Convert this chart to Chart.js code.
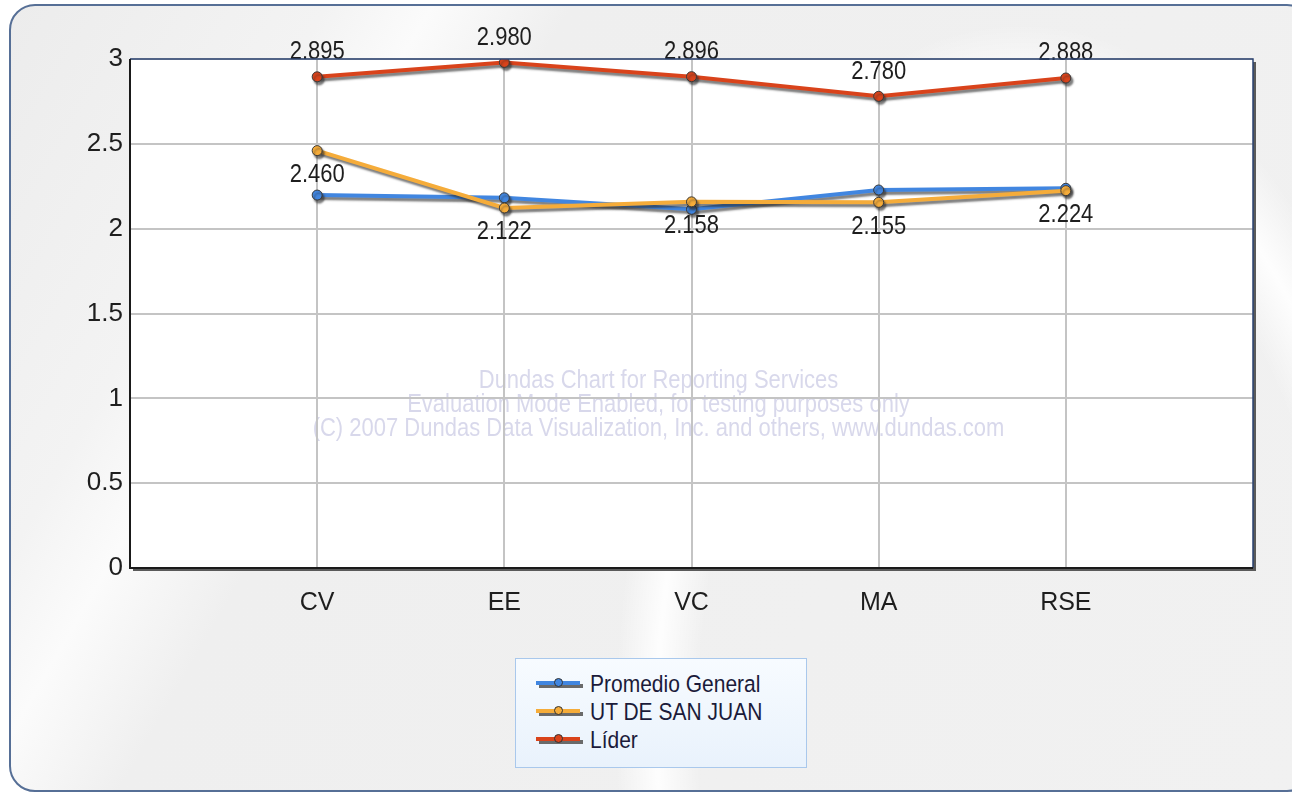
<!DOCTYPE html>
<html>
<head>
<meta charset="utf-8">
<script src="https://cdn.jsdelivr.net/npm/chart.js@4"></script>
<style>
  html, body { margin: 0; padding: 0; background: #ffffff; width: 1292px; height: 795px; overflow: hidden; }
  #frame {
    position: absolute; left: 9px; top: 4px; width: 1300px; height: 784px;
    border: 2px solid #566f96; border-radius: 26px;
    background:
      radial-gradient(ellipse 520px 900px at 1010px 720px, rgba(255,255,255,0) 62%, rgba(255,255,255,0.9) 70%, rgba(255,255,255,0) 78%),
      linear-gradient(120deg, #ececec 0%, #f3f3f3 18%, #fbfbfb 24%, #efefef 32%, #f1f1f1 100%);
  }
  #chart { position: absolute; left: 0; top: 0; }
  #legend {
    position: absolute; left: 515px; top: 658px; width: 290px; height: 108px;
    border: 1px solid #a9c8ec;
    background: linear-gradient(180deg, #f7fbff, #e9f2fc);
    font-family: "Liberation Sans", Arial, sans-serif; font-size: 21px; color: #1b1b3a;
  }
  .item { position: absolute; left: 20px; height: 24px; line-height: 24px; }
  .mark { position: absolute; left: 0; top: 9px; width: 46px; height: 5px; }
  .mark .shadow { position: absolute; left: 3px; top: 3px; width: 44px; height: 4px; background: #6a6a6a; }
  .mark .line { position: absolute; left: 0; top: 0; width: 44px; height: 4px; }
  .mark .dot { position: absolute; left: 18px; top: -3px; width: 7px; height: 7px; border-radius: 50%; border: 1px solid #333; }
  .item span { position: absolute; left: 54px; top: 0; white-space: nowrap; transform: scaleY(1.15); transform-origin: left center; }
</style>
</head>
<body>
<div id="frame"></div>
<canvas id="chart" width="1292" height="795"></canvas>
<div id="legend"></div>
<script>
const categories = ['CV', 'EE', 'VC', 'MA', 'RSE'];
const promedioGeneral = [2.198, 2.182, 2.114, 2.228, 2.238];
const utSanJuan = [2.460, 2.122, 2.158, 2.155, 2.224];
const lider = [2.895, 2.980, 2.896, 2.780, 2.888];
const yTicks = [0, 0.5, 1, 1.5, 2, 2.5, 3];
const seriesNames = ['Promedio General', 'UT DE SAN JUAN', 'Líder'];
const seriesColors = ['#4186e0', '#f5ac3a', '#d9431b'];
const watermark = [
  'Dundas Chart for Reporting Services',
  'Evaluation Mode Enabled, for testing purposes only',
  '(C) 2007 Dundas Data Visualization, Inc. and others, www.dundas.com'
];

var FONT = '"Liberation Sans", Arial, sans-serif';

function toPoints(values) {
  return values.map(function (v, i) { return { x: i + 1, y: v }; });
}

// text slightly stretched vertically, like the original render
function tallText(ctx, text, x, y) {
  ctx.save();
  ctx.translate(x, y);
  ctx.scale(1, 1.2);
  ctx.fillText(text, 0, 0);
  ctx.restore();
}

// white plot area with shadow, watermark behind the grid
const plotBack = {
  id: 'plotBack',
  beforeDraw: function (chart) {
    var a = chart.chartArea, ctx = chart.ctx;
    ctx.save();
    ctx.fillStyle = '#5a5a5a';
    ctx.fillRect(a.left + 3, a.top + 3, a.right - a.left, a.bottom - a.top);
    ctx.fillStyle = '#ffffff';
    ctx.fillRect(a.left, a.top, a.right - a.left, a.bottom - a.top);
    ctx.fillStyle = 'rgba(190,190,222,0.6)';
    ctx.font = '22px ' + FONT;
    ctx.textAlign = 'center';
    ctx.textBaseline = 'middle';
    var cx = (a.left + a.right) / 2 - 33;
    watermark.forEach(function (t, i) { tallText(ctx, t, cx, 381 + i * 24); });
    ctx.restore();
  },
  afterDraw: function (chart) {
    var a = chart.chartArea, ctx = chart.ctx;
    ctx.save();
    ctx.strokeStyle = '#2b4372';
    ctx.lineWidth = 1.5;
    ctx.beginPath();
    ctx.moveTo(a.left, a.top); ctx.lineTo(a.right, a.top); ctx.lineTo(a.right, a.bottom);
    ctx.stroke();
    ctx.strokeStyle = '#1a1a1a';
    ctx.lineWidth = 2;
    ctx.beginPath();
    ctx.moveTo(a.left, a.top); ctx.lineTo(a.left, a.bottom); ctx.lineTo(a.right, a.bottom);
    ctx.stroke();
    ctx.restore();
  }
};

// drop shadow under each series
const lineShadow = {
  id: 'lineShadow',
  beforeDatasetDraw: function (chart) {
    var ctx = chart.ctx;
    ctx.save();
    ctx.shadowColor = 'rgba(40,40,40,0.6)';
    ctx.shadowOffsetX = 2;
    ctx.shadowOffsetY = 3;
    ctx.shadowBlur = 2;
  },
  afterDatasetDraw: function (chart) { chart.ctx.restore(); }
};

// value labels
const valueLabels = {
  id: 'valueLabels',
  afterDatasetsDraw: function (chart) {
    var ctx = chart.ctx;
    ctx.save();
    ctx.font = '22px ' + FONT;
    ctx.fillStyle = '#1e1e1e';
    ctx.textAlign = 'center';
    ctx.textBaseline = 'middle';
    chart.data.datasets.forEach(function (ds, i) {
      if (ds.labelOffset === undefined) return;
      chart.getDatasetMeta(i).data.forEach(function (pt, j) {
        tallText(ctx, ds.data[j].y.toFixed(3), pt.x, pt.y + ds.labelOffset);
      });
    });
    ctx.restore();
  }
};

var values = [promedioGeneral, utSanJuan, lider];
var offsets = [undefined, 24, -25];
var orders = [2, 1, 0];
var datasets = values.map(function (v, i) {
  return {
    label: seriesNames[i],
    data: toPoints(v),
    borderColor: seriesColors[i],
    backgroundColor: seriesColors[i],
    borderWidth: 4,
    pointRadius: 5,
    pointBorderColor: '#3a3a3a',
    pointBorderWidth: 1,
    tension: 0,
    order: orders[i],
    labelOffset: offsets[i]
  };
});

new Chart(document.getElementById('chart'), {
  type: 'line',
  data: { datasets: datasets },
  options: {
    responsive: false,
    animation: false,
    events: [],
    layout: { padding: { left: 0, top: 59, right: 39, bottom: 0 } },
    plugins: { legend: { display: false }, tooltip: { enabled: false } },
    scales: {
      x: {
        type: 'linear', min: 0, max: categories.length + 1,
        afterFit: function (s) { s.height = 227; },
        afterBuildTicks: function (s) {
          s.ticks = categories.map(function (c, i) { return { value: i + 1 }; });
        },
        ticks: {
          padding: 20, color: '#1e1e1e', font: { family: FONT, size: 25 }, maxRotation: 0,
          callback: function (v) { return categories[v - 1] || ''; }
        },
        grid: { color: '#c4c4c4', lineWidth: 2, drawTicks: false },
        border: { display: false }
      },
      y: {
        min: 0, max: 3,
        afterFit: function (s) { s.width = 130; },
        afterBuildTicks: function (s) {
          s.ticks = yTicks.map(function (v) { return { value: v }; });
        },
        ticks: {
          padding: 7, color: '#1e1e1e', font: { family: FONT, size: 26 },
          callback: function (v) { return String(v); }
        },
        grid: { color: '#c4c4c4', lineWidth: 2, drawTicks: false },
        border: { display: false }
      }
    }
  },
  plugins: [plotBack, lineShadow, valueLabels]
});

// legend
var legend = document.getElementById('legend');
seriesNames.forEach(function (name, i) {
  var d = document.createElement('div');
  d.className = 'item';
  d.style.top = (13 + i * 28) + 'px';
  d.innerHTML = '<div class="mark"><div class="shadow"></div><div class="line" style="background:' +
    seriesColors[i] + '"></div><div class="dot" style="background:' + seriesColors[i] + '"></div></div><span>' +
    name + '</span>';
  legend.appendChild(d);
});
</script>
</body>
</html>
